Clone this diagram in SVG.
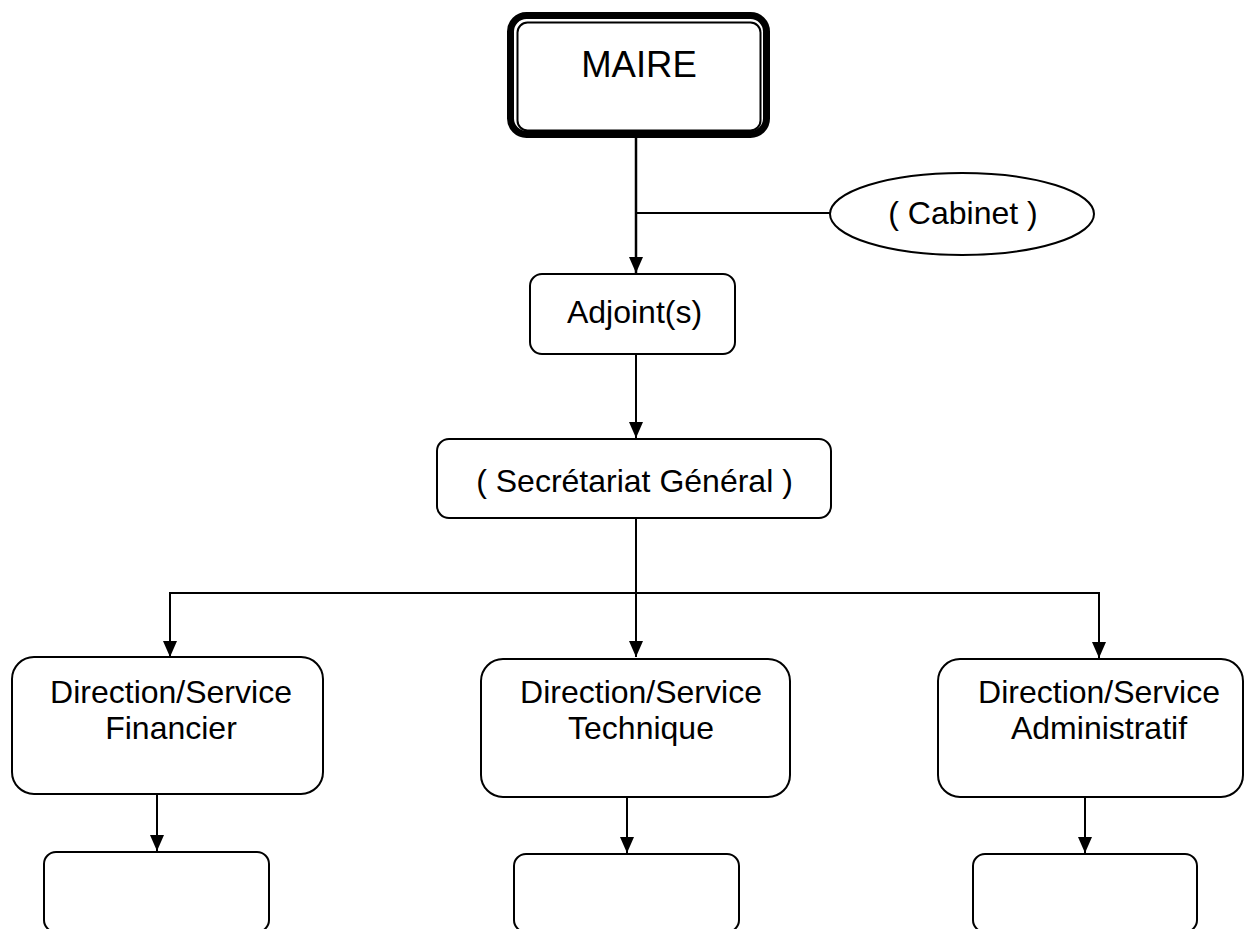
<svg xmlns="http://www.w3.org/2000/svg" width="1245" height="929" viewBox="0 0 1245 929">
<style>
.box{fill:#fff;stroke:#000;stroke-width:2}
.t{font-family:"Liberation Sans",Arial,sans-serif;font-size:32px;fill:#000;text-anchor:middle}
.ln{fill:none;stroke:#000;stroke-width:2}
</style>
<defs>
<marker id="ah" markerUnits="userSpaceOnUse" markerWidth="16" markerHeight="14" viewBox="0 0 16 14" refX="16" refY="7" orient="auto-start-reverse">
<path d="M0,0 L16,7 L0,14 Z" fill="#000"/>
</marker>
</defs>
<rect width="1245" height="929" fill="#fff"/>
<g id="connectors">
<line class="ln" x1="636" y1="137" x2="636" y2="273" marker-end="url(#ah)" style="stroke-width:2.5"/>
<line class="ln" x1="636" y1="213" x2="830" y2="213"/>
<line class="ln" x1="636" y1="354" x2="636" y2="438" marker-end="url(#ah)"/>
<line class="ln" x1="636" y1="518" x2="636" y2="657" marker-end="url(#ah)"/>
<polyline class="ln" points="170,657 170,593 1099,593 1099,658" marker-start="url(#ah)" marker-end="url(#ah)"/>
<line class="ln" x1="157" y1="794" x2="157" y2="851" marker-end="url(#ah)"/>
<line class="ln" x1="627" y1="797" x2="627" y2="853" marker-end="url(#ah)"/>
<line class="ln" x1="1085" y1="797" x2="1085" y2="853" marker-end="url(#ah)"/>
</g>
<g id="maire">
<rect x="510.5" y="15.5" width="256" height="119" rx="16" fill="#fff" stroke="#000" stroke-width="7"/>
<rect x="517.5" y="22.5" width="243" height="108" rx="10" fill="#fff" stroke="#000" stroke-width="2"/>
<text class="t" x="639" y="77" style="font-size:36.5px">MAIRE</text>
</g>
<g id="cabinet">
<ellipse cx="962" cy="214" rx="132" ry="41" class="box"/>
<text class="t" x="963" y="224">( Cabinet )</text>
</g>
<g id="adjoints">
<rect x="530" y="274" width="205" height="80" rx="12" class="box"/>
<text class="t" x="634.5" y="323">Adjoint(s)</text>
</g>
<g id="secretariat">
<rect x="437" y="439" width="394" height="79" rx="12" class="box"/>
<text class="t" x="634.5" y="492">( Secrétariat Général )</text>
</g>
<g id="dir-financier">
<rect x="12" y="657" width="311" height="137" rx="22" class="box"/>
<text class="t" x="171" y="703">Direction/Service</text>
<text class="t" x="171" y="739">Financier</text>
</g>
<g id="dir-technique">
<rect x="481" y="659" width="309" height="138" rx="22" class="box"/>
<text class="t" x="641" y="703">Direction/Service</text>
<text class="t" x="641" y="739">Technique</text>
</g>
<g id="dir-administratif">
<rect x="938" y="659" width="305" height="138" rx="22" class="box"/>
<text class="t" x="1099" y="703">Direction/Service</text>
<text class="t" x="1099" y="739">Administratif</text>
</g>
<g id="sub-financier">
<rect x="44" y="852" width="225" height="80" rx="12" class="box"/>
</g>
<g id="sub-technique">
<rect x="514" y="854" width="225" height="78" rx="12" class="box"/>
</g>
<g id="sub-administratif">
<rect x="973" y="854" width="224" height="78" rx="12" class="box"/>
</g>
</svg>
